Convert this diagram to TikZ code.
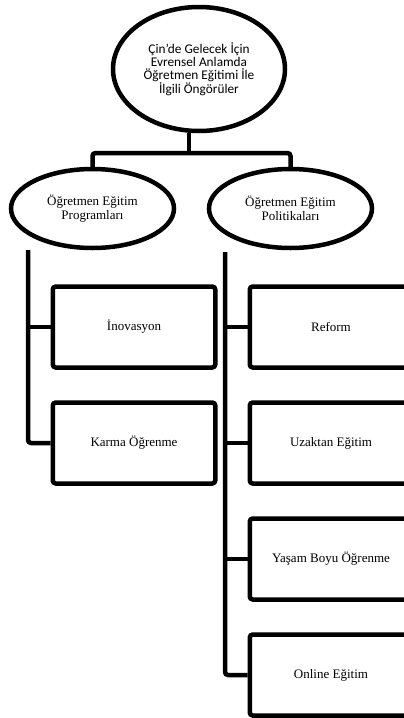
\documentclass[tikz,border=0pt]{standalone}
\usepackage{fontspec}
\setmainfont{Liberation Serif}
\newfontfamily\carlito{Carlito}
\usetikzlibrary{shapes.geometric, positioning}
\tikzstyle{topic} = [ellipse, draw=black, line width=4.5pt, minimum width=172pt, minimum height=124pt, inner sep=0pt, align=center, font=\carlito\fontsize{13.3}{13.3}\selectfont]
\tikzstyle{branch} = [ellipse, draw=black, line width=4.5pt, minimum width=163pt, minimum height=79pt, inner sep=0pt, align=center, font=\fontsize{13}{14}\selectfont]
\tikzstyle{leaf} = [rectangle, rounded corners=3pt, draw=black, line width=4.5pt, minimum width=162.5pt, minimum height=81pt, text centered, font=\fontsize{13}{14}\selectfont]
\tikzstyle{link} = [line width=4.5pt, rounded corners=3pt]

\begin{document}
\begin{tikzpicture}[x=1pt, y=-1pt, node distance=116pt]
    \useasboundingbox (0,0) rectangle (404,718);
    \node (root) [topic] at (199,69) {Çin’de Gelecek İçin\\Evrensel Anlamda\\Öğretmen Eğitimi İle\\İlgili Öngörüler};
    \node (prog) [branch] at (92.5,208.5) {Öğretmen Eğitim\\Programları};
    \node (pol) [branch, right of=prog, xshift=82pt] {Öğretmen Eğitim\\Politikaları};
    \node (inov) [leaf] at (134,327) {İnovasyon};
    \node (karma) [leaf, below of=inov] {Karma Öğrenme};
    \node (reform) [leaf, right of=inov, xshift=81pt] {Reform};
    \node (uzak) [leaf, below of=reform] {Uzaktan Eğitim};
    \node (yasam) [leaf, below of=uzak] {Yaşam Boyu Öğrenme};
    \node (online) [leaf, below of=yasam] {Online Eğitim};

    % connectors
    \coordinate (fork) at (189,153);
    \draw[link] ([xshift=-10pt]root.south) -- (fork);
    \draw[link] (prog.north) |- (fork) -| (pol.north);
    \coordinate (progtrunk) at (28,250);
    \coordinate (poltrunk) at (225,252);
    \draw[link] (progtrunk) |- (karma.west);
    \draw[link] (progtrunk |- inov.west) -- (inov.west);
    \draw[link] (poltrunk) |- (online.west);
    \foreach \n in {reform, uzak, yasam}
        \draw[link] (poltrunk |- \n.west) -- (\n.west);
\end{tikzpicture}
\end{document}
